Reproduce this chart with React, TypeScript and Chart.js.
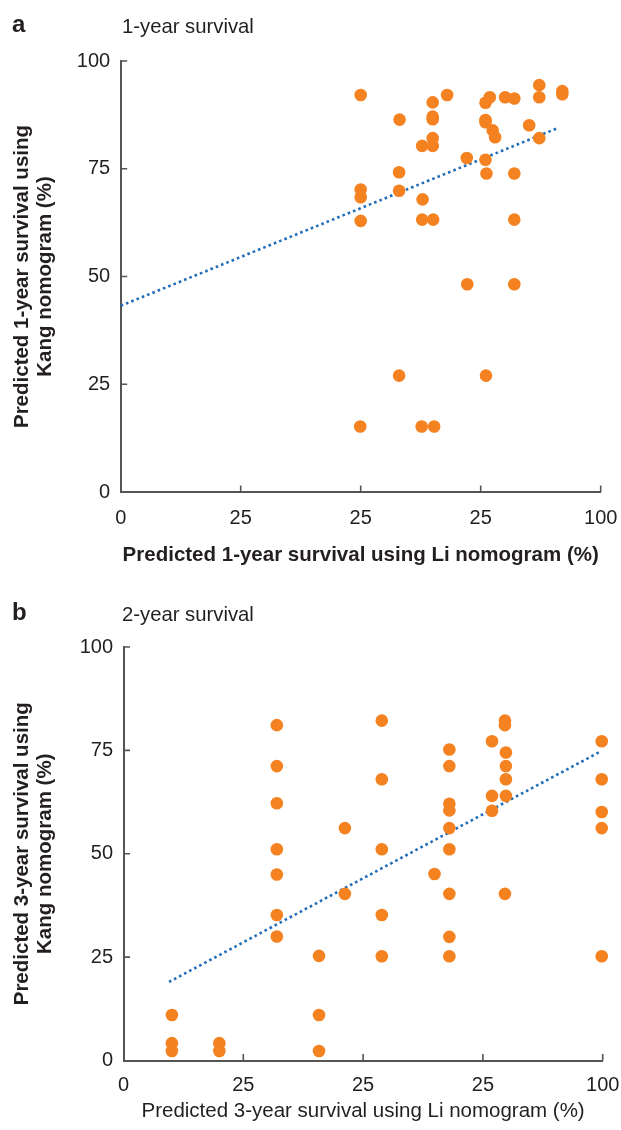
import React, { useEffect, useRef } from 'react';
import { Chart, registerables } from 'chart.js';

Chart.register(...registerables);

const FONT = "'Liberation Sans', Arial, Helvetica, sans-serif";
const ORANGE = '#f58220';
const BLUE = '#1f6db8';
const AXIS = '#555555';
const TEXT = '#231f20';

// Tick values and (as printed) tick labels
const TICK_VALUES = [0, 25, 50, 75, 100];
const X_TICK_LABELS = ['0', '25', '25', '25', '100'];
const Y_TICK_LABELS = ['0', '25', '50', '75', '100'];

// Panel a: 1-year survival (x = Li nomogram, y = Kang nomogram)
const A_LI = [50, 58.1, 65, 65, 65, 68, 76, 76.9, 80.1, 82, 87.2, 87.2, 92, 92, 76, 76, 77.5, 78, 85.1, 87.2, 65, 62.8, 65, 72.1, 76, 76.2, 82, 58, 50, 50, 58, 62.9, 50, 62.8, 65.1, 82, 72.2, 82, 58, 76.1, 49.9, 62.7, 65.3];
const A_KANG = [92.1, 86.4, 90.4, 87.1, 86.5, 92.1, 90.3, 91.6, 91.6, 91.3, 94.4, 91.6, 93.0, 92.3, 86.3, 85.8, 83.9, 82.3, 85.1, 82.1, 82.1, 80.3, 80.3, 77.5, 77.1, 73.9, 73.9, 74.2, 70.2, 68.4, 69.9, 67.9, 62.9, 63.2, 63.2, 63.2, 48.2, 48.2, 27.0, 27.0, 15.2, 15.2, 15.2];
const A_TREND_X = [0, 90.75];
const A_TREND_Y = [43.2, 84.3];

// Panel b: 2-year survival (x = Li nomogram, y = Kang nomogram)
const B_LI = [32, 32, 32, 32, 32, 32, 32, 46.2, 46.2, 40.8, 40.8, 40.8, 10.1, 10.1, 10.1, 20, 20, 53.9, 53.9, 53.9, 53.9, 53.9, 64.9, 68, 68, 68, 68, 68, 68, 68, 68, 68, 76.9, 76.9, 76.9, 79.6, 79.6, 79.6, 79.8, 79.8, 79.8, 79.8, 99.8, 99.8, 99.8, 99.8, 99.8];
const B_KANG = [81.1, 71.2, 62.2, 51.1, 45.0, 35.2, 30.0, 56.2, 40.3, 25.3, 11.0, 2.3, 11.0, 4.2, 2.3, 4.2, 2.3, 82.2, 68.0, 51.1, 35.2, 25.2, 45.1, 75.2, 71.2, 62.1, 60.5, 56.2, 51.1, 40.3, 29.9, 25.2, 77.2, 64.0, 60.4, 82.2, 81.1, 40.3, 74.5, 71.2, 68.0, 64.0, 77.2, 68.0, 60.1, 56.2, 25.2];
const B_TREND_X = [9.5, 99.5];
const B_TREND_Y = [19.0, 74.7];

type PanelCfg = {
  letter: string;
  subtitle: string;
  yTitle: string[];
  xTitle: string;
  xBold: boolean;
  li: number[];
  kang: number[];
  trendX: number[];
  trendY: number[];
  height: number;
  left: number;
  right: number;
  top: number;
  bottom: number;
  xTickPad: number;
  xTitlePadB: number;
  letterBase: number;
  subBase: number;
};

const PANELS: PanelCfg[] = [
  {
    letter: 'a',
    subtitle: '1-year survival',
    yTitle: ['Predicted 1-year survival using', 'Kang nomogram (%)'],
    xTitle: 'Predicted 1-year survival using Li nomogram (%)',
    xBold: true,
    li: A_LI,
    kang: A_KANG,
    trendX: A_TREND_X,
    trendY: A_TREND_Y,
    height: 580,
    left: 120.7,
    right: 600.7,
    top: 61,
    bottom: 492,
    xTickPad: 14,
    xTitlePadB: 12,
    letterBase: 32,
    subBase: 33,
  },
  {
    letter: 'b',
    subtitle: '2-year survival',
    yTitle: ['Predicted 3-year survival using', 'Kang nomogram (%)'],
    xTitle: 'Predicted 3-year survival using Li nomogram (%)',
    xBold: false,
    li: B_LI,
    kang: B_KANG,
    trendX: B_TREND_X,
    trendY: B_TREND_Y,
    height: 550,
    left: 123.5,
    right: 602.7,
    top: 67,
    bottom: 480.5,
    xTickPad: 12.5,
    xTitlePadB: 6,
    letterBase: 40,
    subBase: 41,
  },
];

function decorPlugin(cfg: PanelCfg) {
  return {
    id: 'decor' + cfg.letter,
    afterDraw(chart: any) {
      const { ctx, chartArea } = chart;
      const xs = chart.scales.x;
      const ys = chart.scales.y;
      ctx.save();
      ctx.strokeStyle = AXIS;
      ctx.lineWidth = 1.6;
      ctx.beginPath();
      for (const v of TICK_VALUES) {
        if (v === 0) continue;
        const px = xs.getPixelForValue(v);
        ctx.moveTo(px, chartArea.bottom);
        ctx.lineTo(px, chartArea.bottom - 6.5);
        const py = ys.getPixelForValue(v);
        ctx.moveTo(chartArea.left, py);
        ctx.lineTo(chartArea.left + 6.5, py);
      }
      ctx.stroke();
      ctx.fillStyle = TEXT;
      ctx.textBaseline = 'alphabetic';
      ctx.textAlign = 'left';
      ctx.font = `bold 24px ${FONT}`;
      ctx.fillText(cfg.letter, 12, cfg.letterBase);
      ctx.font = `20.3px ${FONT}`;
      ctx.fillText(cfg.subtitle, 122, cfg.subBase);
      ctx.restore();
    },
  };
}

function Panel({ cfg }: { cfg: PanelCfg }) {
  const ref = useRef<HTMLCanvasElement>(null);
  useEffect(() => {
    if (!ref.current) return;
    const chart = new Chart(ref.current, {
      type: 'scatter',
      data: {
        datasets: [
          {
            type: 'scatter',
            data: cfg.li.map((x, i) => ({ x, y: cfg.kang[i] })),
            backgroundColor: ORANGE,
            borderWidth: 0,
            pointRadius: 6.3,
            pointHoverRadius: 6.3,
            clip: false,
            order: 1,
          } as any,
          {
            type: 'line',
            data: cfg.trendX.map((x, i) => ({ x, y: cfg.trendY[i] })),
            borderColor: BLUE,
            borderWidth: 2.6,
            borderDash: [2.6, 3.1],
            pointRadius: 0,
            fill: false,
            clip: false,
            order: 2,
          } as any,
        ],
      },
      options: {
        animation: false,
        responsive: false,
        events: [],
        layout: { padding: { left: 0, top: cfg.top, right: 621 - cfg.right, bottom: 0 } },
        plugins: {
          legend: { display: false },
          tooltip: { enabled: false },
          title: { display: false },
        },
        scales: {
          x: {
            type: 'linear',
            min: 0,
            max: 100,
            afterFit: (s: any) => {
              s.height = cfg.height - cfg.bottom;
              s.paddingLeft = 0;
              s.paddingRight = 0;
            },
            afterBuildTicks: (s: any) => {
              s.ticks = TICK_VALUES.map((v) => ({ value: v }));
            },
            ticks: {
              callback: (_v: any, i: number) => X_TICK_LABELS[i],
              font: { family: FONT, size: 20 },
              color: TEXT,
              padding: cfg.xTickPad,
              maxRotation: 0,
              autoSkip: false,
            },
            grid: { display: false, drawTicks: false },
            border: { display: true, color: AXIS, width: 2 },
            title: {
              display: true,
              text: cfg.xTitle,
              color: TEXT,
              font: { family: FONT, size: 20.5, weight: cfg.xBold ? 'bold' : 'normal', lineHeight: 1.2 },
              padding: { top: 0, bottom: cfg.xTitlePadB },
            },
          },
          y: {
            type: 'linear',
            min: 0,
            max: 100,
            afterFit: (s: any) => {
              s.width = cfg.left;
              s.paddingTop = 0;
              s.paddingBottom = 0;
            },
            afterBuildTicks: (s: any) => {
              s.ticks = TICK_VALUES.map((v) => ({ value: v }));
            },
            ticks: {
              callback: (_v: any, i: number) => Y_TICK_LABELS[i],
              font: { family: FONT, size: 20 },
              color: TEXT,
              padding: 10.5,
              autoSkip: false,
            },
            grid: { display: false, drawTicks: false },
            border: { display: true, color: AXIS, width: 2 },
            title: {
              display: true,
              text: cfg.yTitle,
              color: TEXT,
              font: { family: FONT, size: 20.5, weight: 'bold', lineHeight: 1.12 },
              padding: { top: 10.5, bottom: 0 },
            },
          },
        },
      } as any,
      plugins: [decorPlugin(cfg)],
    });
    return () => chart.destroy();
  }, [cfg]);
  return (
    <canvas
      ref={ref}
      width={621}
      height={cfg.height}
      style={{ display: 'block', width: 621, height: cfg.height }}
    />
  );
}

export default function App() {
  return (
    <div style={{ position: 'absolute', left: 0, top: 0, width: 621, height: 1130, background: '#ffffff' }}>
      {PANELS.map((p) => (
        <Panel key={p.letter} cfg={p} />
      ))}
    </div>
  );
}
